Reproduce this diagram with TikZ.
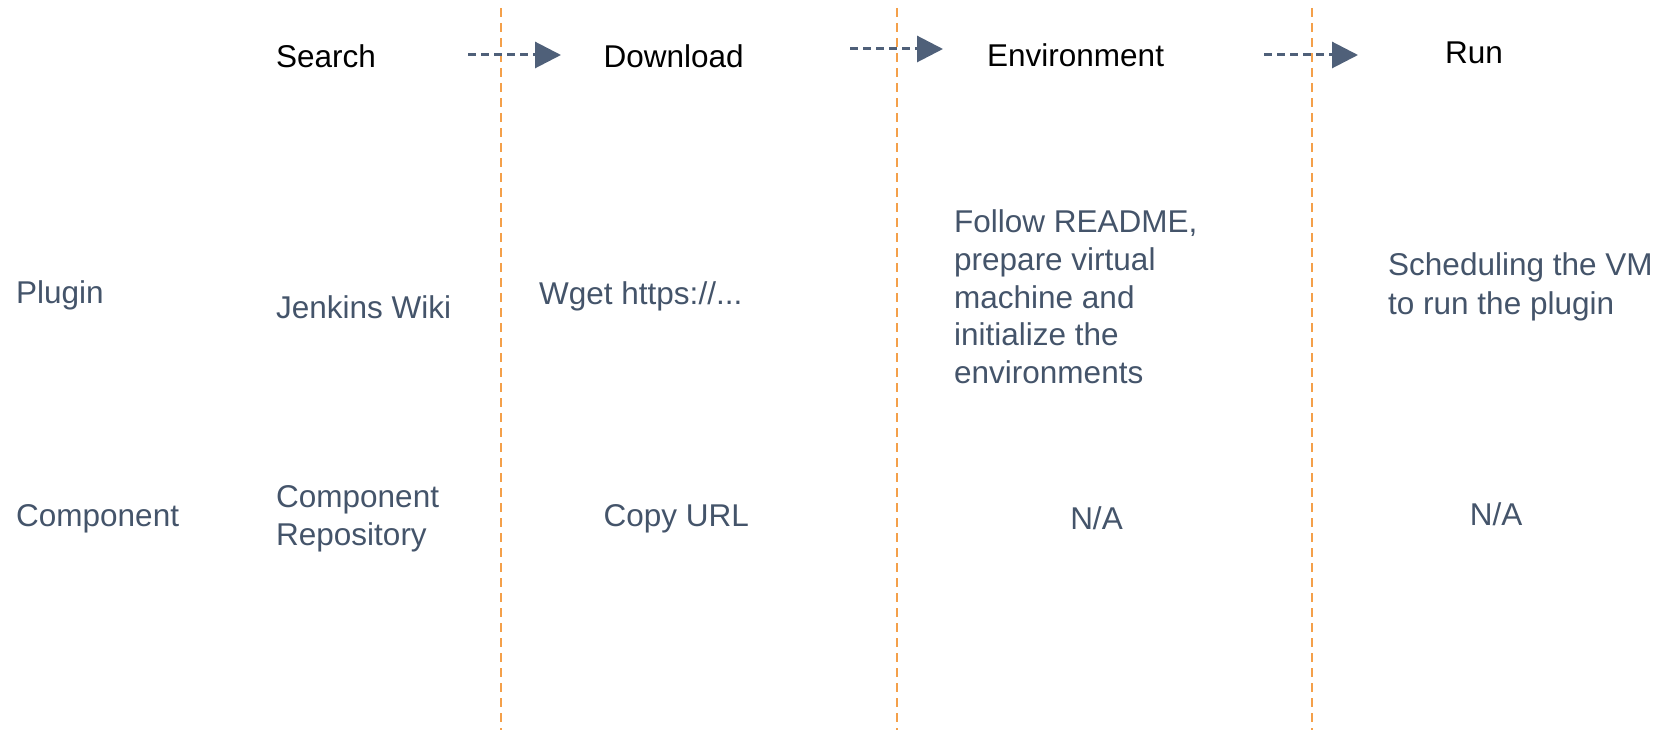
\documentclass[tikz,border=0pt]{standalone}
\usepackage{fontspec}
\setmainfont{Liberation Sans}
\usetikzlibrary{arrows.meta}
\definecolor{slate}{HTML}{44546A}
\definecolor{arrowc}{HTML}{4F6079}
\definecolor{orangel}{HTML}{F4A04A}
\begin{document}
\begin{tikzpicture}[x=1pt,y=-1pt,
  every node/.style={inner sep=0pt, anchor=west, font=\fontsize{31.5}{37.7}\selectfont},
  head/.style={text=black},
  cell/.style={text=slate, align=left},
  wide/.style={font=\fontsize{31.5}{38.5}\selectfont},
  divider/.style={draw=orangel, line width=1.8pt, dash pattern=on 9pt off 6pt},
  flow/.style={draw=arrowc, line width=3pt, dash pattern=on 8pt off 5pt,
    -{Triangle[length=26pt,width=26pt]}}]
\path[use as bounding box] (0,0) rectangle (1666,730);
% dividers
\coordinate (d1t) at (501,8); \coordinate (d1b) at (501,730);
\coordinate (d2t) at (897,8); \coordinate (d2b) at (897,730);
\coordinate (d3t) at (1312,8); \coordinate (d3b) at (1312,730);
\draw[divider] (d1t) -- (d1b);
\draw[divider] (d2t) -- (d2b);
\draw[divider] (d3t) -- (d3b);
% headers
\node[head] (search) at (276,56) {Search};
\node[head] (download) at (603.5,56) {Download};
\node[head] (env) at (987,55) {Environment};
\node[head] (run) at (1445,53) {Run};
% arrows
\coordinate (a1s) at (468,55); \coordinate (a1e) at (561,55);
\coordinate (a2s) at (850,49); \coordinate (a2e) at (943,49);
\coordinate (a3s) at (1264,55); \coordinate (a3e) at (1358,55);
\draw[flow] (a1s) -- (a1e);
\draw[flow] (a2s) -- (a2e);
\draw[flow] (a3s) -- (a3e);
% rows
\node[cell] (plugin) at (16,295) {Plugin};
\node[cell] (component) at (16,518.5) {Component};
\node[cell] (jenkins) at (276,307) {Jenkins Wiki};
\node[cell] (wget) at (539,296) {Wget https://...};
\node[cell] (envtext) at (954,297) {Follow README,\\prepare virtual\\machine and\\initialize the\\environments};
\node[cell, wide] (sched) at (1388,287) {Scheduling the VM\\to run the plugin};
\node[cell, wide] (repo) at (276,519) {Component\\Repository};
\node[cell] (copy) at (603.5,518.5) {Copy URL};
\node[cell, anchor=center] (na1) at (1096.5,518.5) {N/A};
\node[cell, anchor=center] (na2) at (1496,514) {N/A};
\end{tikzpicture}
\end{document}
